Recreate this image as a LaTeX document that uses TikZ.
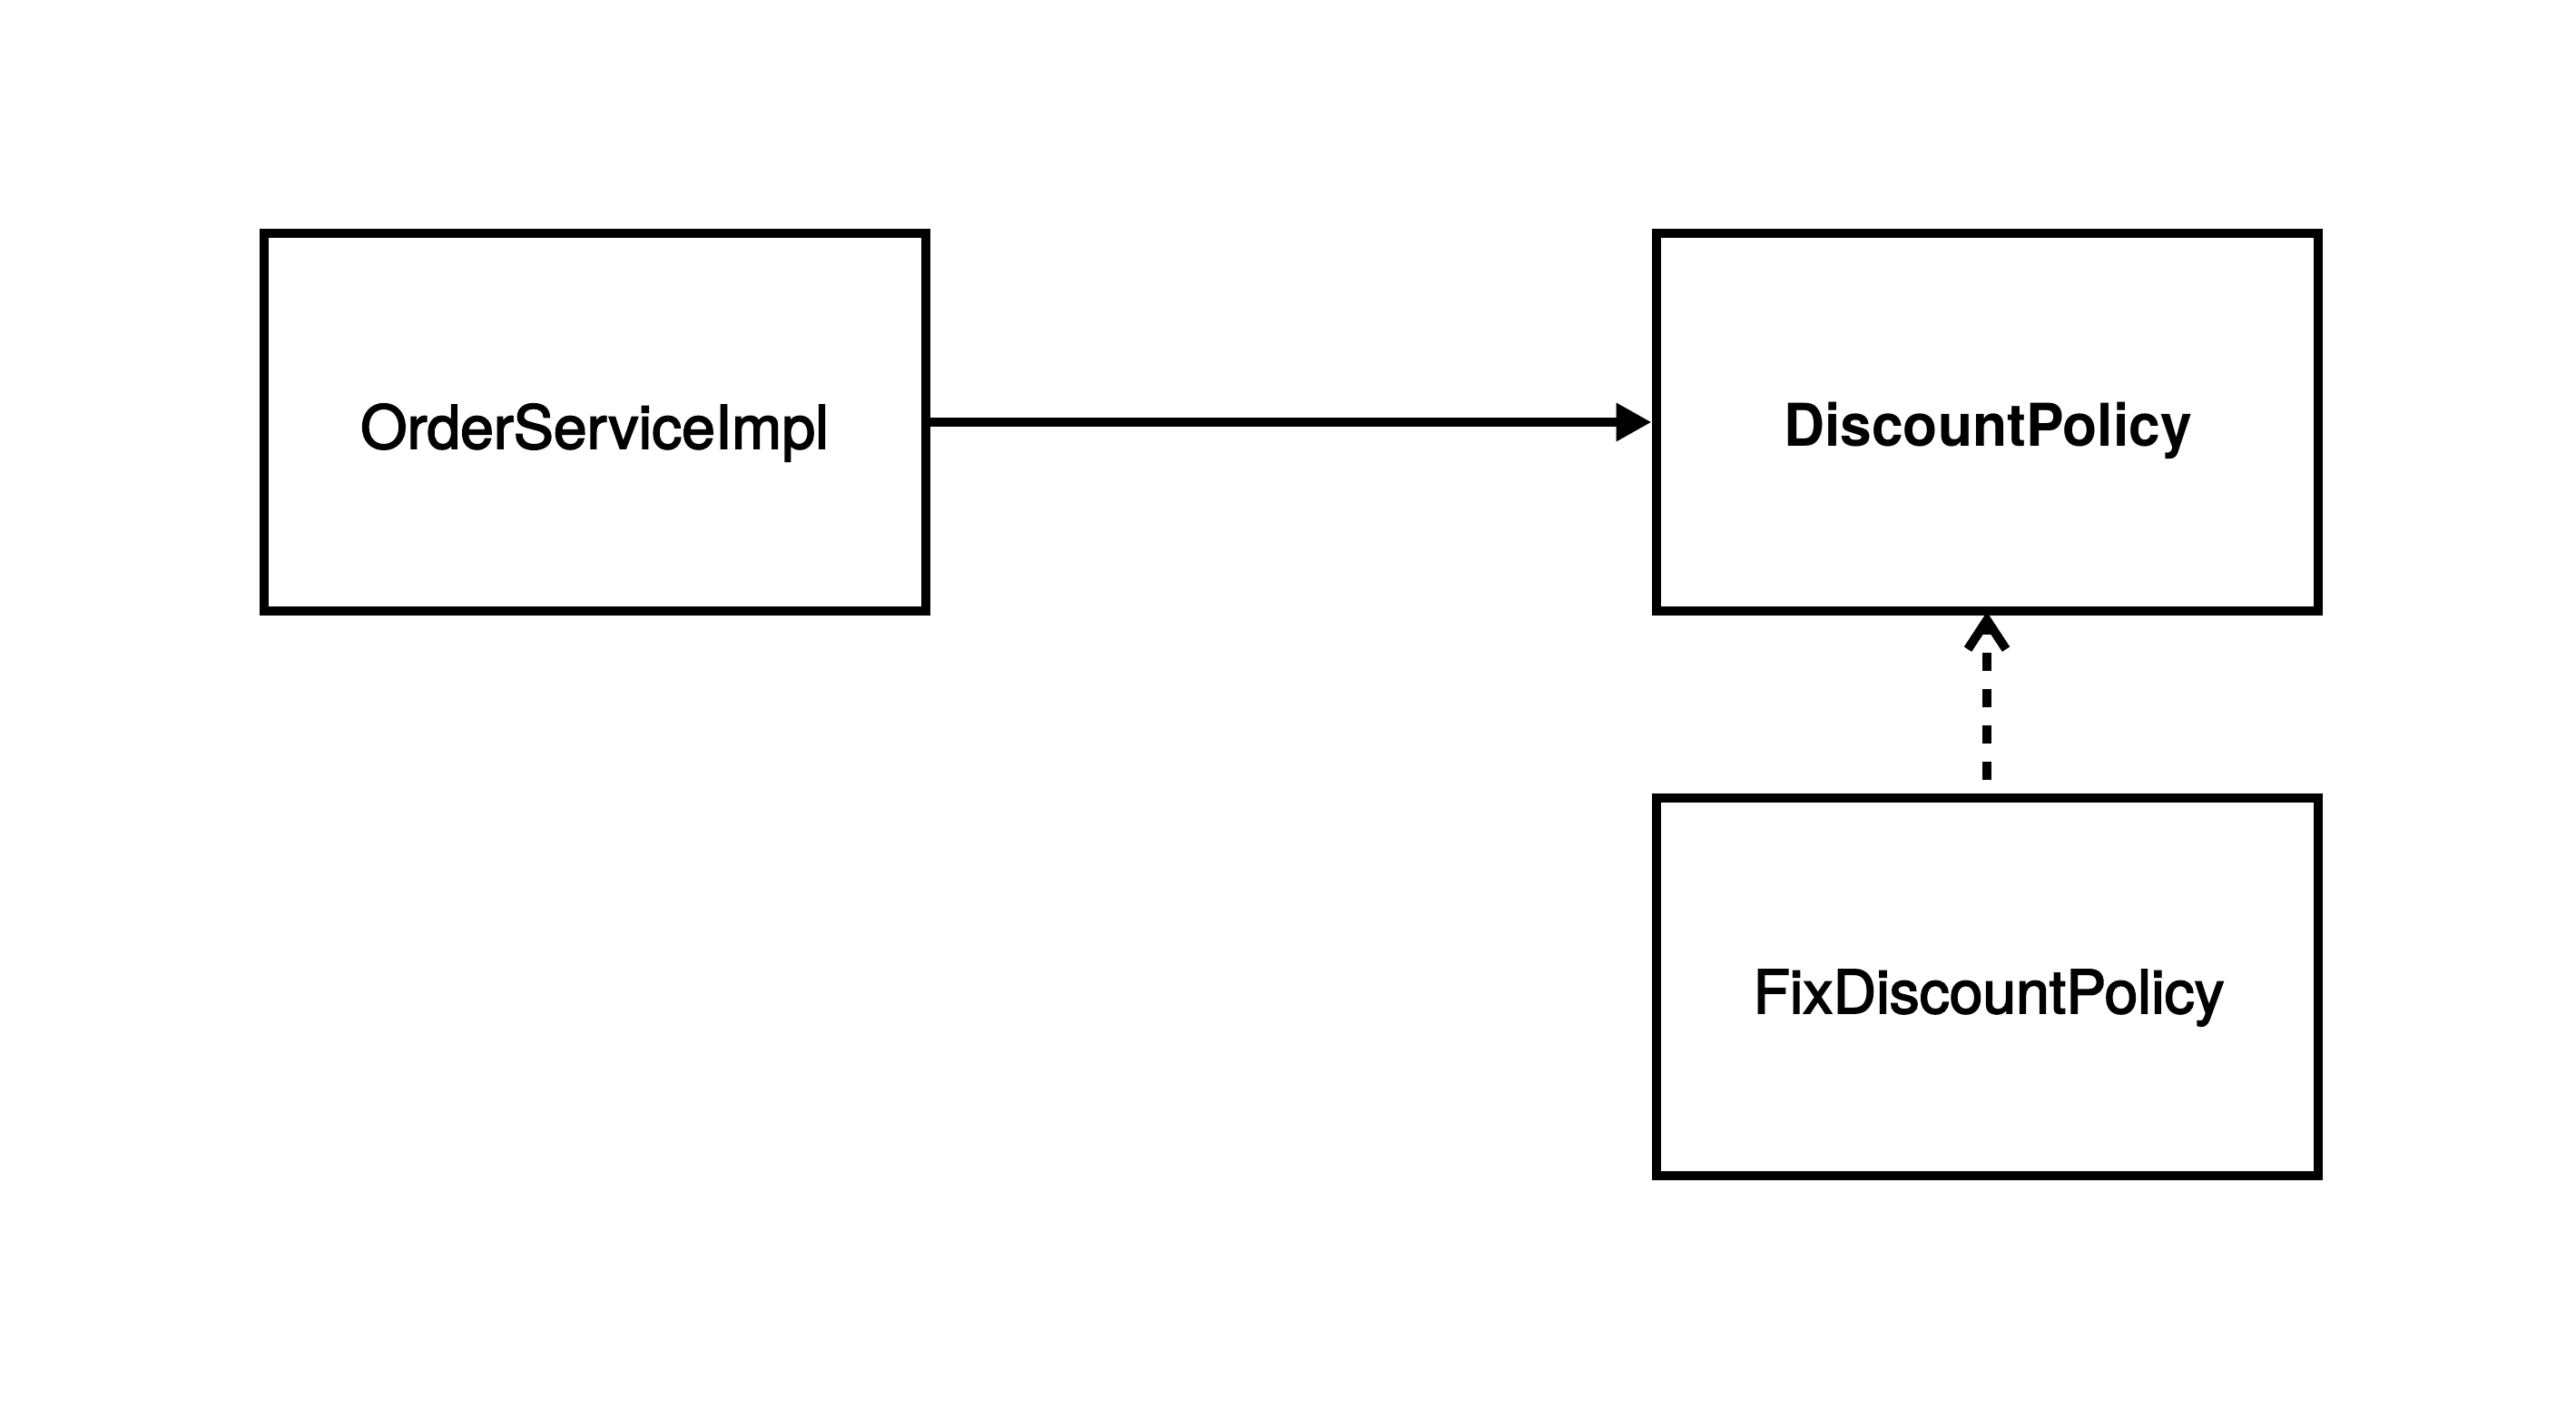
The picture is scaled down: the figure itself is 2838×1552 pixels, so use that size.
\documentclass[tikz,border=0pt]{standalone}
\usepackage{fontspec}
\setmainfont[FakeBold=2.5,BoldFeatures={FakeStretch=0.96,FakeBold=0}]{TeX Gyre Heros}
\usetikzlibrary{arrows.meta}
\begin{document}
\begin{tikzpicture}[x=1pt,y=-1pt,
  box/.style={draw=black,line width=10pt,minimum width=729pt,minimum height=416pt,inner sep=0pt},
  lbl/.style={anchor=base,inner sep=0pt,font=\fontsize{66}{79}\selectfont},
  conn/.style={line width=10pt}]
\useasboundingbox[fill=white] (0,0) rectangle (2838,1552);
\node[box] (osi) at (655.5,465) {};
\node[box] (dp) at (2189,465) {};
\node[box] (fdp) at (2189,1087) {};
\node[lbl] (tosi) at (655,494) {OrderServiceImpl};
\node[lbl,font=\fontsize{65}{78}\selectfont\bfseries] (tdp) at (2190,491) {DiscountPolicy};
\node[lbl] (tfdp) at (2191,1116) {FixDiscountPolicy};
\draw[conn,-{Triangle[length=39pt,width=40pt]}] (osi.east) -- (dp.west);
\draw[conn,dash pattern=on 20pt off 20pt,dash phase=25pt,-{Straight Barb[length=32pt,width=42pt]}] (fdp.north) -- ([yshift=4pt]dp.south);
\end{tikzpicture}
\end{document}
